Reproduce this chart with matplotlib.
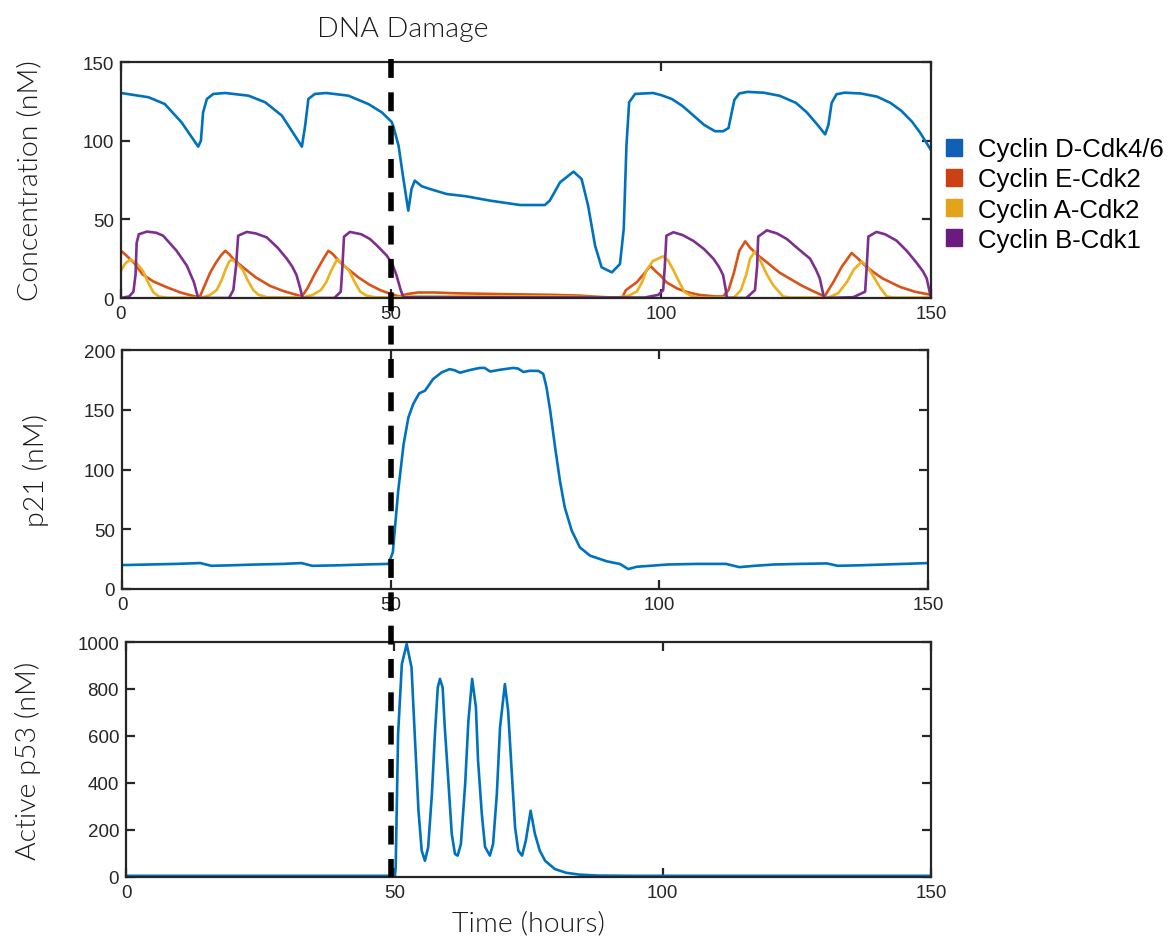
import numpy as np
import matplotlib.pyplot as plt
from matplotlib.lines import Line2D
from matplotlib.patches import Patch
from matplotlib.transforms import blended_transform_factory

# ---- data ----
# Cyclin D-Cdk4/6
tD = [0, 5.1, 8.1, 11.2, 13.1, 14.3, 14.8, 15.2, 15.9, 17.1, 19.3, 23.6, 26.7, 29.8, 32.2, 33.5,
      34.1, 34.7, 35.9, 38, 42.1, 45.8, 48.3, 50.1, 50.4, 51.4, 52.3, 53.2, 53.8, 54.4, 55.7,
      57.2, 60.3, 64, 68.3, 73.9, 78.5, 79.4, 81.3, 83.8, 85.3, 86.5, 87.8, 89, 90.9, 92.4,
      93.1, 93.6, 94.1, 95.2, 98.5, 100, 102, 104, 106, 108, 110, 111.5, 112.5, 113.1, 113.6,
      114.5, 116, 119, 122, 125, 127, 129, 130.4, 131, 131.6, 132.5, 134, 137, 140, 142.5,
      144.5, 146.5, 148, 150]
cycD = [130.3, 127.6, 123.3, 111.7, 102.2, 96.2, 100, 118, 126.5, 129.7, 130.3, 128.6, 124.4,
        115.9, 103.2, 96.2, 109.5, 126.5, 129.7, 130.3, 128.6, 123.3, 118, 112, 109.5, 96.8,
        75.6, 55.5, 69.3, 74.6, 71, 69.3, 66.1, 64.6, 61.9, 59.1, 59.1, 61.9, 73.5, 80.3, 75.6,
        58.7, 33.2, 19.5, 16.3, 21.6, 43.9, 96.8, 124.4, 129.7, 130.3, 129, 126.5, 122, 116,
        110, 106, 106, 108, 118, 126, 130, 131, 130.5, 128.5, 124, 118, 110, 104, 110, 124,
        129.5, 130.5, 130, 128, 124, 119, 112, 105, 94]

# Cyclin E-Cdk2
tE = [0, 1, 2.5, 4, 6, 8.5, 11, 13.7, 14.6, 15.5, 16.5, 17.5, 18.5, 19.3, 20, 21, 22.6, 25,
      27.6, 30, 32, 33.5, 34.5, 36, 37.5, 38.4, 39.2, 40.5, 42, 44, 46, 48, 50, 51.5, 53, 55,
      58, 62, 70, 80, 85, 88, 91, 92.8, 93.5, 95.5, 97, 98, 99, 100, 101, 103, 104.8, 107, 110,
      111.5, 112.5, 113.5, 114.5, 115.6, 116.5, 118, 119.6, 122, 124, 126, 128, 130.3, 131,
      131.9, 133.5, 135.3, 136.5, 138, 139.3, 141, 144.3, 147, 150]
cycE = [30, 27, 22, 15, 10.5, 6.8, 3.5, 1, 0.8, 8, 16, 22, 27, 30, 28, 24, 19.5, 13, 7.7, 4.5,
        2.5, 1, 6, 16, 25, 30, 28, 23, 18.5, 13, 8.5, 5, 2.5, 1, 2.5, 3.5, 3.5, 3, 2.5, 2, 1.5,
        0.8, 0.3, 0.3, 5, 10, 16, 20.5, 17, 14, 10, 6, 3.8, 2, 1, 1, 5, 16, 30, 36, 32, 27, 22.7,
        16, 12, 8, 4.6, 1, 5, 10, 20, 28.6, 25, 20, 16.5, 12.5, 7, 4, 2]

# Cyclin A-Cdk2
tA = [0, 0.8, 1.7, 2.8, 4.1, 5, 6, 7, 8.5, 15, 16.5, 17.7, 18.6, 19.3, 20, 20.5, 21.5, 22.6,
      23.5, 24.5, 25.5, 27, 33.6, 35.5, 37, 38, 39, 40, 41, 42.3, 43.3, 44.3, 45.5, 47, 50, 52,
      55, 70, 80, 88, 92, 94, 95.5, 96.5, 97.3, 98.5, 100.4, 101.3, 102.3, 103.4, 104.4, 105.5,
      107, 113.5, 114.8, 115.8, 116.5, 117.4, 118.5, 119.6, 120.8, 122.6, 124, 131, 132.8,
      134.4, 135.7, 137.2, 138.2, 139.3, 140.5, 141.8, 143, 150]
cycA = [17.4, 22, 24.4, 22.5, 17, 10, 3.6, 1, 0.2, 0.2, 2, 5, 11, 17.6, 23, 24.4, 22, 17.6, 11,
        5, 2, 0.5, 0.3, 2, 5, 10, 18, 24.4, 22, 17, 10, 4, 1.5, 0.5, 0.3, 0.8, 1, 1, 1, 0.5, 0.3,
        1.5, 4, 10, 17.6, 23.5, 26.5, 24, 17.6, 10, 3.6, 1.5, 0.3, 0.3, 5, 15, 25, 29.7, 23, 15,
        8, 1, 0.3, 0.3, 3, 10, 18, 23.3, 20, 14, 7, 1, 0.3, 0.3]

# Cyclin B-Cdk1
tB = [0, 1.5, 2.3, 2.7, 2.9, 3.3, 4.8, 6.5, 7.8, 9, 10.3, 12.2, 13.5, 14.3, 20, 20.8, 21.3,
      21.7, 23.3, 25, 27, 29, 30.7, 31.7, 32.5, 33.2, 33.6, 39.5, 40.7, 41, 41.3, 42.4, 44.5,
      46.1, 47.5, 49.2, 50.2, 51, 51.8, 52.3, 97, 99.5, 100.4, 100.7, 101, 102.3, 104, 106, 108,
      109.7, 110.7, 111.5, 112, 112.2, 115.8, 117.4, 117.8, 118, 119.6, 121.5, 123.3, 125.5,
      127.6, 128.7, 129.4, 130.2, 135.6, 137.8, 138.1, 138.4, 139.9, 141.5, 143.6, 145.5,
      147.3, 148.5, 149.2, 150]
cycB = [0, 1, 4, 15, 35, 40.5, 42.2, 41.5, 39.6, 35, 30, 20.5, 10, 0, 0, 5, 20, 39.6, 42, 41,
        38.5, 32, 25, 20, 14.6, 6, 0, 0, 4, 20, 39, 42, 40.5, 37.5, 33, 27, 22, 14.6, 5, 0.5,
        0.3, 2, 5, 20, 39.6, 41.8, 40, 36.3, 31, 25, 20, 14.6, 5, 0, 0, 5, 20, 39, 43, 41, 37.5,
        31, 25, 18, 12.5, 0, 0.5, 4, 20, 39, 42, 40.5, 36.5, 30, 22.5, 17, 12.5, 0]

# p21
t21 = [0, 5, 10, 14.6, 16.6, 20, 25, 30, 33.4, 35.4, 40, 45, 49.6, 50.4, 51.4, 52.4, 53.3, 54.2,
       55.3, 56.4, 57.9, 59.5, 61, 61.9, 62.9, 64.8, 66.6, 67.5, 68.5, 70.4, 72.8, 73.7, 74.7,
       75.9, 77.5, 78.4, 79, 79.7, 80.6, 81.5, 82.4, 83.7, 85.2, 87.1, 90.2, 92.7, 94.2, 95.8,
       101.6, 107, 112.4, 114.9, 118, 121.3, 126, 131.2, 133.2, 137, 142, 150]
p21 = [20, 20.5, 21, 21.7, 19.4, 19.8, 20.5, 21, 21.7, 19.4, 19.8, 20.5, 21, 30.7, 82, 121,
       143.6, 154.8, 163.7, 166, 175.7, 181.3, 184, 183, 181, 183.3, 185, 185, 182, 183.5, 185,
       184.5, 181.6, 182.6, 182.5, 180, 168.8, 149, 118.6, 90.6, 68.3, 48.8, 34.9, 27.9, 23.2,
       20.9, 16.7, 18.6, 20.5, 21, 21, 18.3, 19.5, 20.5, 21, 21.4, 19.4, 19.8, 20.5, 21.7]

# active p53
t53 = [0, 50.1, 50.25, 50.7, 51.4, 52.3, 53.2, 53.8, 54.5, 55.1, 55.7, 56.3, 57, 57.6, 58.1,
       58.5, 59, 59.4, 60.1, 60.7, 61.3, 61.8, 62.4, 63.2, 63.8, 64.5, 65.2, 65.6, 66.3, 66.9,
       67.8, 68.4, 69.1, 69.7, 70.6, 71.2, 71.9, 72.5, 73.1, 73.8, 74.5, 75.4, 76.2, 77.1, 78.1,
       79.9, 82, 84.6, 88, 95, 150]
p53 = [5, 5, 40, 608, 906, 991, 892, 608, 282, 112, 69, 126, 353, 623, 807, 843, 807, 637, 396,
       183, 98, 91, 140, 396, 665, 843, 722, 495, 268, 128, 91, 140, 353, 638, 821, 708, 438,
       211, 112, 91, 155, 282, 183, 112, 69, 34, 18, 10, 6, 5, 5]

damage_time = 50
legend_labels = ['Cyclin D-Cdk4/6', 'Cyclin E-Cdk2', 'Cyclin A-Cdk2', 'Cyclin B-Cdk1']

# ---- styling ----
line_cols = ['#0072BD', '#D95319', '#EDB120', '#7E2F8E']
patch_cols = ['#1060b5', '#cc4016', '#e3a31b', '#6b1b7f']
axcol = '#262626'
thin = dict(family='Lato', weight=300, color='#1a1a1a')
lab_size = 20.5

plt.rcParams['font.family'] = ['Liberation Sans', 'DejaVu Sans']

fig = plt.figure(figsize=(11.74, 9.37), dpi=100)
W, H = 1174, 937


def panel(l, t, r, b):
    ax = fig.add_axes([l / W, 1 - b / H, (r - l) / W, (b - t) / H])
    for s in ax.spines.values():
        s.set_color(axcol)
        s.set_linewidth(1.6)
    ax.tick_params(direction='in', length=6.5, width=1.6, top=True, right=True,
                   labelsize=13.5, colors=axcol, pad=5)
    ax.set_xlim(0, 150)
    ax.set_xticks([0, 50, 100, 150])
    return ax


ax1 = panel(121, 63, 931, 299)
ax1.plot(tD, cycD, color=line_cols[0], lw=1.9)
ax1.plot(tE, cycE, color=line_cols[1], lw=1.9)
ax1.plot(tA, cycA, color=line_cols[2], lw=1.9)
ax1.plot(tB, cycB, color=line_cols[3], lw=1.9)
ax1.set_ylim(0, 150)
ax1.set_yticks([0, 50, 100, 150])
ax1.set_ylabel('Concentration (nM)', fontsize=lab_size, **thin)
ax1.yaxis.set_label_coords(-0.097, 0.5)

ax2 = panel(122, 351, 928, 590)
ax2.plot(t21, p21, color=line_cols[0], lw=1.9)
ax2.set_ylim(0, 200)
ax2.set_yticks([0, 50, 100, 150, 200])
ax2.set_ylabel('p21 (nM)', fontsize=lab_size, **thin)
ax2.yaxis.set_label_coords(-0.09, 0.5)

ax3 = panel(126, 643, 931, 878)
ax3.plot(t53, p53, color=line_cols[0], lw=1.9)
ax3.set_ylim(0, 1000)
ax3.set_yticks([0, 200, 400, 600, 800, 1000])
ax3.set_ylabel('Active p53 (nM)', fontsize=lab_size, **thin)
ax3.yaxis.set_label_coords(-0.106, 0.5)
ax3.set_xlabel('Time (hours)', fontsize=lab_size, labelpad=7, **thin)

# dashed DNA-damage marker spanning all panels
trans = blended_transform_factory(ax1.transData, fig.transFigure)
y_top = ax1.get_position().y1 + 3 / H
y_bot = ax3.get_position().y0
fig.add_artist(Line2D([damage_time, damage_time], [y_top, y_bot], transform=trans,
                      color='black', lw=4, dashes=(3.4, 2.6), zorder=5))
x_txt = trans.transform((damage_time, 0))[0] / fig.bbox.width
fig.text(x_txt + 12 / W, 1 - 30 / H, 'DNA Damage', ha='center', va='center',
         fontsize=lab_size, **thin)

handles = [Patch(facecolor=c, edgecolor=c) for c in patch_cols]
fig.legend(handles, legend_labels, loc='upper left', bbox_to_anchor=(936 / W, 1 - 128 / H),
           frameon=False, fontsize=18.5, handlelength=0.62, handleheight=0.62,
           handletextpad=0.6, labelspacing=0.24, borderaxespad=0)

fig.savefig('out.png', dpi=100)
